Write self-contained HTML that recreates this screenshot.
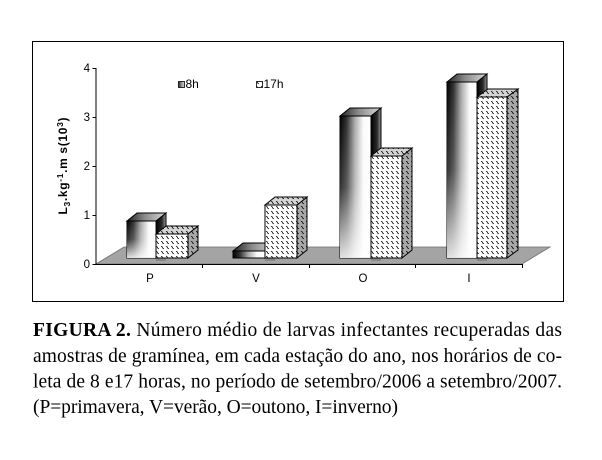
<!DOCTYPE html>
<html><head><meta charset="utf-8">
<style>
html,body{margin:0;padding:0;background:#fff;}
body{width:602px;height:460px;position:relative;overflow:hidden;}
svg{position:absolute;left:0;top:0;}
</style></head>
<body>
<svg width="602" height="460" viewBox="0 0 602 460" xmlns="http://www.w3.org/2000/svg">
<defs>
  <linearGradient id="g8front" x1="0" y1="0" x2="1" y2="0">
    <stop offset="0" stop-color="#000"/>
    <stop offset="0.22" stop-color="#333"/>
    <stop offset="0.48" stop-color="#aaa"/>
    <stop offset="0.75" stop-color="#fafafa"/>
    <stop offset="1" stop-color="#ffffff"/>
  </linearGradient>
  <linearGradient id="g8fade" x1="0" y1="0" x2="0" y2="1">
    <stop offset="0" stop-color="#fff" stop-opacity="0"/>
    <stop offset="0.5" stop-color="#fff" stop-opacity="0.2"/>
    <stop offset="1" stop-color="#fff" stop-opacity="0.88"/>
  </linearGradient>
  <linearGradient id="g8side" x1="0" y1="0" x2="1" y2="0">
    <stop offset="0" stop-color="#000"/>
    <stop offset="0.6" stop-color="#2a2a2a"/>
    <stop offset="1" stop-color="#9a9a9a"/>
  </linearGradient>
  <linearGradient id="g8top" x1="0" y1="0" x2="1" y2="0">
    <stop offset="0" stop-color="#222"/>
    <stop offset="0.45" stop-color="#8a8a8a"/>
    <stop offset="1" stop-color="#dadada"/>
  </linearGradient>
  <pattern id="hp" width="5" height="5" patternUnits="userSpaceOnUse">
    <path d="M1,1.2 L2.1,1.8 L2.8,3.2 L3.9,3.8" stroke="#000" stroke-width="0.75" fill="none"/>
  </pattern>
</defs>

<!-- frame -->
<rect x="32.5" y="41.5" width="531" height="260" fill="none" stroke="#000" stroke-width="1"/>

<!-- floor -->
<polygon points="96,264 522,264 550,247 124,247" fill="#a4a4a4" stroke="#6e6e6e" stroke-width="0.8"/>

<!-- axes -->
<line x1="96" y1="68" x2="96" y2="264.5" stroke="#000" stroke-width="1"/>
<g stroke="#000" stroke-width="1">
  <line x1="92.5" y1="68.5" x2="96" y2="68.5"/>
  <line x1="92.5" y1="117.5" x2="96" y2="117.5"/>
  <line x1="92.5" y1="166.5" x2="96" y2="166.5"/>
  <line x1="92.5" y1="215.5" x2="96" y2="215.5"/>
  <line x1="92.5" y1="264.5" x2="96" y2="264.5"/>
  <line x1="96" y1="264.5" x2="522" y2="264.5"/>
  <line x1="202.5" y1="264" x2="202.5" y2="268"/>
  <line x1="309.5" y1="264" x2="309.5" y2="268"/>
  <line x1="415.5" y1="264" x2="415.5" y2="268"/>
  <line x1="522.5" y1="264" x2="522.5" y2="268"/>
</g>
<g font-family="Liberation Sans, Arial, sans-serif" font-size="11.5" fill="#000" text-anchor="end">
  <text x="90" y="72">4</text>
  <text x="90" y="121">3</text>
  <text x="90" y="170">2</text>
  <text x="90" y="219">1</text>
  <text x="90" y="268">0</text>
</g>
<g font-family="Liberation Sans, Arial, sans-serif" font-size="11.5" fill="#000" text-anchor="middle">
  <text x="150" y="282">P</text>
  <text x="256" y="282">V</text>
  <text x="363" y="282">O</text>
  <text x="469" y="282">I</text>
</g>

<!-- y label -->
<text x="67" y="166" transform="rotate(-90 67 166)" font-family="Liberation Sans, Arial, sans-serif" font-size="12" font-weight="bold" text-anchor="middle" textLength="97" lengthAdjust="spacing">L<tspan font-size="8.5" dy="3">3</tspan><tspan dy="-3">.kg</tspan><tspan font-size="8.5" dy="-4">-1</tspan><tspan dy="4">.m s(10</tspan><tspan font-size="8.5" dy="-4">3</tspan><tspan dy="4">)</tspan></text>

<!-- legend -->
<rect x="178.5" y="81.5" width="6" height="6" fill="url(#g8top)" stroke="#000" stroke-width="0.8"/>
<text x="185.5" y="88" font-family="Liberation Sans, Arial, sans-serif" font-size="12">8h</text>
<rect x="256.5" y="81.5" width="6" height="6" fill="#fff" stroke="#000" stroke-width="0.8"/>
<rect x="256.5" y="81.5" width="6" height="6" fill="url(#hp)"/>
<text x="263.5" y="88" font-family="Liberation Sans, Arial, sans-serif" font-size="12">17h</text>

<!-- bars -->
<g stroke="#000" stroke-width="1" stroke-linejoin="miter">
  <!-- P 8h -->
  <polygon points="156,221 166,213 166,250 156,258" fill="url(#g8side)"/>
  <polygon points="127,221 156,221 166,213 137,213" fill="url(#g8top)"/>
  <rect x="127" y="221" width="29" height="37" fill="url(#g8front)"/>
  <rect x="127" y="221" width="29" height="37" fill="url(#g8fade)" stroke="none"/>
  <!-- P 17h -->
  <rect x="156" y="258" width="10" height="3" fill="#888" stroke="none"/>
  <polygon points="188,234 198,226 198,250 188,258" fill="#a8a8a8"/>
  <polygon points="188,234 198,226 198,250 188,258" fill="url(#hp)" stroke="none"/>
  <polygon points="156,234 188,234 198,226 166,226" fill="#d4d4d4"/>
  <polygon points="156,234 188,234 198,226 166,226" fill="url(#hp)" stroke="none"/>
  <rect x="156" y="234" width="32" height="24" fill="#fff"/>
  <rect x="156" y="234" width="32" height="24" fill="url(#hp)" stroke="none"/>

  <!-- V 8h -->
  <polygon points="265,251 275,243 275,250 265,258" fill="url(#g8side)"/>
  <polygon points="233,251 265,251 275,243 243,243" fill="url(#g8top)"/>
  <rect x="233" y="251" width="32" height="7" fill="url(#g8front)"/>
  <!-- V 17h -->
  <rect x="265" y="258" width="10" height="3" fill="#888" stroke="none"/>
  <polygon points="297,205 307,197 307,250 297,258" fill="#a8a8a8"/>
  <polygon points="297,205 307,197 307,250 297,258" fill="url(#hp)" stroke="none"/>
  <polygon points="265,205 297,205 307,197 275,197" fill="#d4d4d4"/>
  <polygon points="265,205 297,205 307,197 275,197" fill="url(#hp)" stroke="none"/>
  <rect x="265" y="205" width="32" height="53" fill="#fff"/>
  <rect x="265" y="205" width="32" height="53" fill="url(#hp)" stroke="none"/>

  <!-- O 8h -->
  <polygon points="371,116 381,108 381,250 371,258" fill="url(#g8side)"/>
  <polygon points="340,116 371,116 381,108 350,108" fill="url(#g8top)"/>
  <rect x="340" y="116" width="31" height="142" fill="url(#g8front)"/>
  <rect x="340" y="116" width="31" height="142" fill="url(#g8fade)" stroke="none"/>
  <!-- O 17h -->
  <rect x="371" y="258" width="10" height="3" fill="#888" stroke="none"/>
  <polygon points="402,156 412,148 412,250 402,258" fill="#a8a8a8"/>
  <polygon points="402,156 412,148 412,250 402,258" fill="url(#hp)" stroke="none"/>
  <polygon points="371,156 402,156 412,148 381,148" fill="#d4d4d4"/>
  <polygon points="371,156 402,156 412,148 381,148" fill="url(#hp)" stroke="none"/>
  <rect x="371" y="156" width="31" height="102" fill="#fff"/>
  <rect x="371" y="156" width="31" height="102" fill="url(#hp)" stroke="none"/>

  <!-- I 8h -->
  <polygon points="477,82 487,74 487,250 477,258" fill="url(#g8side)"/>
  <polygon points="447,82 477,82 487,74 457,74" fill="url(#g8top)"/>
  <rect x="447" y="82" width="30" height="176" fill="url(#g8front)"/>
  <rect x="447" y="82" width="30" height="176" fill="url(#g8fade)" stroke="none"/>
  <!-- I 17h -->
  <rect x="477" y="258" width="10" height="3" fill="#888" stroke="none"/>
  <polygon points="507,97 518,89 518,250 507,258" fill="#a8a8a8"/>
  <polygon points="507,97 518,89 518,250 507,258" fill="url(#hp)" stroke="none"/>
  <polygon points="477,97 507,97 518,89 488,89" fill="#d4d4d4"/>
  <polygon points="477,97 507,97 518,89 488,89" fill="url(#hp)" stroke="none"/>
  <rect x="477" y="97" width="30" height="161" fill="#fff"/>
  <rect x="477" y="97" width="30" height="161" fill="url(#hp)" stroke="none"/>
</g>

<!-- caption -->
<g font-family="Liberation Serif, 'Times New Roman', serif" font-size="19.5" fill="#000">
  <text x="33" y="336" textLength="529" lengthAdjust="spacing"><tspan font-weight="bold">FIGURA 2.</tspan> Número médio de larvas infectantes recuperadas das</text>
  <text x="33" y="362" textLength="529" lengthAdjust="spacing">amostras de gramínea, em cada estação do ano, nos horários de co-</text>
  <text x="33" y="387.5" textLength="529" lengthAdjust="spacing">leta de 8 e17 horas, no período de setembro/2006 a setembro/2007.</text>
  <text x="33" y="413" textLength="365" lengthAdjust="spacing">(P=primavera, V=verão, O=outono, I=inverno)</text>
</g>
</svg>
</body></html>
